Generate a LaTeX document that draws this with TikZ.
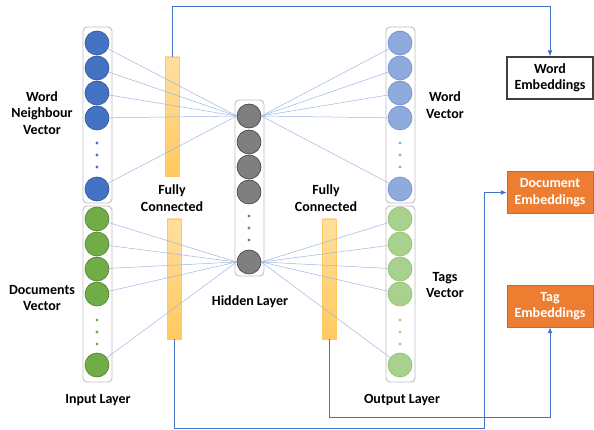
\documentclass[tikz,border=0pt]{standalone}
\usepackage{fontspec}
\setmainfont{Carlito}
\usetikzlibrary{arrows.meta}
\definecolor{wblue}{HTML}{4472C4}
\definecolor{wblueb}{HTML}{2F528F}
\definecolor{lblue}{HTML}{8FAADC}
\definecolor{lblueb}{HTML}{6E8FCB}
\definecolor{wgreen}{HTML}{70AD47}
\definecolor{wgreenb}{HTML}{507E32}
\definecolor{lgreen}{HTML}{A9D18E}
\definecolor{lgreenb}{HTML}{8CBF6C}
\definecolor{hgray}{HTML}{7F7F7F}
\definecolor{hgrayb}{HTML}{404040}
\definecolor{colframe}{HTML}{BFBFBF}
\definecolor{barlight}{HTML}{FFDFA0}
\definecolor{bardark}{HTML}{FFC95E}
\definecolor{linkblue}{HTML}{9DB5E2}
\definecolor{embor}{HTML}{ED7D31}
\definecolor{boxgray}{HTML}{404040}
\begin{document}
\begin{tikzpicture}[x=1pt,y=-1pt,>={Latex[length=6pt,width=5pt]},
    lbl/.style={font=\fontsize{14}{16.5}\selectfont\bfseries,align=center},
    neuron/.style 2 args={circle,minimum size=24pt,inner sep=0pt,fill=#1,draw=#2,line width=.6pt},
    column/.style={draw=colframe,rounded corners=4pt,line width=.9pt,fill=white},
    fcbar/.style={rectangle,minimum width=14pt,minimum height=120pt,inner sep=0pt,top color=barlight,bottom color=bardark,draw=bardark,line width=.5pt},
    conn/.style={draw=linkblue,line width=.5pt},
    flow/.style={draw=wblue,line width=1pt,->},
    embbox/.style={minimum width=86pt,minimum height=42pt,inner sep=0pt,align=center,font=\fontsize{14}{16.5}\selectfont\bfseries}]
\useasboundingbox (0,0) rectangle (594,430);
% layer columns
\draw[column](83,27) rectangle (112,203);
\draw[column](83,206) rectangle (112,382);
\draw[column](235,100) rectangle (264,276);
\draw[column](386,27) rectangle (415,203);
\draw[column](386,206) rectangle (415,382);
% neurons
\foreach \y [count=\i] in {43,68,93,118,189}{
  \node[neuron={wblue}{wblueb}] (wn\i) at (97,\y) {};
  \node[neuron={lblue}{lblueb}] (wv\i) at (400,\y) {};
  \node[neuron={wgreen}{wgreenb}] (dc\i) at (97,\y+176) {};
  \node[neuron={lgreen}{lgreenb}] (tg\i) at (400,\y+176) {};
}
\foreach \y [count=\i] in {116,142,167,192,262}
  \node[neuron={hgray}{hgrayb}] (hd\i) at (249,\y) {};
\foreach \d in {0,12,24}{
  \fill[wblue](97,143+\d) circle (1.6);
  \fill[lblue](400,143+\d) circle (1.6);
  \fill[wgreen](97,320+\d) circle (1.6);
  \fill[lgreen](400,320+\d) circle (1.6);
  \fill[hgray](249,216+\d) circle (1.6);
}
% fully connected bars
\node[fcbar,minimum height=119pt] (fcA) at (172,116.5) {};
\node[fcbar] (fcB) at (174,279) {};
\node[fcbar] (fcC) at (329,279) {};
% connections
\foreach \i in {1,...,5}{
  \draw[conn](wn\i) -- (hd1.west);
  \draw[conn](dc\i) -- (hd5.west);
  \draw[conn](hd1.east) -- (wv\i);
  \draw[conn](hd5.east) -- (tg\i);
}
% labels
\node[lbl] (wnlab) at (42,113) {Word\\Neighbour\\Vector};
\node[lbl] (fclabA) at (172,198) {Fully\\Connected};
\node[lbl] (fclabB) at (326,198) {Fully\\Connected};
\node[lbl] (dclab) at (42,298) {Documents\\Vector};
\node[lbl] (inlab) at (98,400) {Input Layer};
\node[lbl] (hdlab) at (250,302) {Hidden Layer};
\node[lbl] (wvlab) at (445,105) {Word\\Vector};
\node[lbl] (tglab) at (445,285) {Tags\\Vector};
\node[lbl] (outlab) at (402,400) {Output Layer};
% embeddings
\node[embbox,draw=boxgray,line width=1.2pt,fill=white] (wemb) at (550,78) {Word\\Embeddings};
\node[embbox,fill=embor,draw=embor!85!black,text=white] (demb) at (550,192.5) {Document\\Embeddings};
\node[embbox,fill=embor,draw=embor!85!black,text=white] (temb) at (550,306) {Tag\\Embeddings};
\draw[flow](fcA.north) -- ++(0,-50) -| (wemb.north);
\draw[flow](fcB.south) |- (484,428) |- (demb.west);
\draw[flow](fcC.south) -- ++(0,78) -| (temb.south);
\end{tikzpicture}
\end{document}
